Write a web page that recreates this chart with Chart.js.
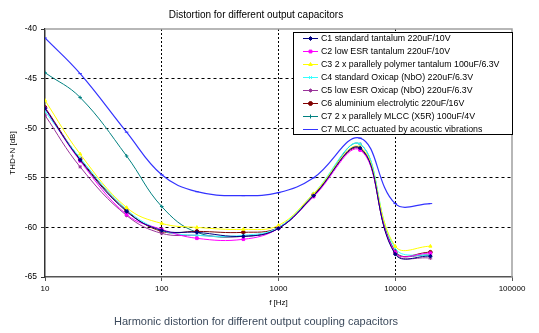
<!DOCTYPE html>
<html>
<head>
<meta charset="utf-8">
<script src="https://cdn.jsdelivr.net/npm/chart.js@4.4.1/dist/chart.umd.min.js"></script>
<style>
  body { margin: 0; background: #fff; }
  canvas { display: block; }
</style>
</head>
<body>
<canvas id="thdChart" width="539" height="333"></canvas>
<script>
// frequencies [Hz] and THD+N [dB] per capacitor
const freqs = [10, 20, 50, 100, 200, 500, 1000, 2000, 5000, 10000, 20000];
const c1Std = [-48.0, -53.2, -58.4, -60.3, -60.5, -60.9, -60.1, -56.8, -52.0, -62.7, -62.9];
const c2LowEsr = [-48.0, -53.3, -58.7, -60.2, -61.1, -61.2, -60.1, -56.9, -52.2, -62.5, -62.6];
const c3Polymer = [-47.2, -52.6, -58.0, -59.6, -60.0, -60.2, -59.8, -56.6, -51.9, -61.9, -61.9];
const c4Oxicap = [-48.3, -53.0, -58.2, -60.3, -60.8, -60.8, -60.0, -56.6, -51.6, -62.1, -62.9];
const c5OxicapLow = [-48.7, -53.9, -58.8, -60.6, -60.8, -60.9, -60.1, -56.8, -52.0, -62.6, -63.1];
const c6Alu = [-47.9, -53.1, -58.3, -60.4, -60.4, -60.5, -60.0, -56.7, -52.1, -62.5, -62.5];
const c7Mlcc = [-44.4, -46.9, -52.8, -57.9, -60.5, -60.9, -60.1, -56.8, -51.6, -62.4, -62.8];
const c7Acoustic = [-40.9, -44.5, -50.4, -54.7, -56.4, -56.8, -56.5, -55.0, -51.0, -57.6, -57.6];

const labels = [
  "C1 standard tantalum 220uF/10V",
  "C2 low ESR tantalum 220uF/10V",
  "C3 2 x parallely polymer tantalum 100uF/6.3V",
  "C4 standard Oxicap (NbO) 220uF/6.3V",
  "C5 low ESR Oxicap (NbO) 220uF/6.3V",
  "C6 aluminium electrolytic 220uF/16V",
  "C7 2 x parallely MLCC (X5R) 100uF/4V",
  "C7 MLCC actuated by acoustic vibrations"
];
const xTicks = [10, 100, 1000, 10000, 100000];
const yTicks = [-40, -45, -50, -55, -60, -65];

const series = [c1Std, c2LowEsr, c3Polymer, c4Oxicap, c5OxicapLow, c6Alu, c7Mlcc, c7Acoustic];
const colors = ["#000080", "#ff00ff", "#ffff00", "#33ffff", "#993399", "#800000", "#008080", "#3333ff"];
const markers = ["rectRot", "rect", "triangle", "crossRot", "star", "circle", "cross", "line"];

const FONT = "'Liberation Sans', Arial, sans-serif";

const datasets = series.map((vals, i) => ({
  label: labels[i],
  data: freqs.map((f, j) => ({ x: f, y: vals[j] })),
  borderColor: colors[i],
  backgroundColor: colors[i],
  borderWidth: i === 7 ? 1.2 : 1,
  tension: 0.4,
  pointStyle: markers[i],
  pointRadius: 1.8,
  pointBorderWidth: 1
}));

// frame lines on top and right of the plot
const framePlugin = {
  id: "frame",
  beforeDatasetsDraw(chart) {
    const { ctx, chartArea: a } = chart;
    ctx.save();
    ctx.strokeStyle = "#a0a0a0";
    ctx.lineWidth = 1.5;
    ctx.beginPath();
    ctx.moveTo(a.left, a.top);
    ctx.lineTo(a.right, a.top);
    ctx.lineTo(a.right, a.bottom);
    ctx.stroke();
    ctx.restore();
  }
};

// boxed legend inside the plot + caption under the chart
const legendBox = {
  id: "legendBox",
  afterDraw(chart) {
    const ctx = chart.ctx;
    ctx.save();
    ctx.fillStyle = "#fff";
    ctx.fillRect(293, 32, 220, 103);
    ctx.strokeStyle = "#000";
    ctx.lineWidth = 1;
    ctx.strokeRect(293.5, 32.5, 219, 102);
    ctx.font = "8.8px " + FONT;
    ctx.textBaseline = "middle";
    chart.data.datasets.forEach((ds, i) => {
      const y = 38.5 + i * 13;
      ctx.strokeStyle = ds.borderColor;
      ctx.fillStyle = ds.borderColor;
      ctx.lineWidth = 1;
      ctx.beginPath();
      ctx.moveTo(303, y);
      ctx.lineTo(318, y);
      ctx.stroke();
      if (Chart.helpers && Chart.helpers.drawPoint) {
        Chart.helpers.drawPoint(ctx, { pointStyle: ds.pointStyle, radius: 2, rotation: 0, borderWidth: 1 }, 310.5, y);
      }
      ctx.fillStyle = "#000";
      ctx.fillText(ds.label, 321, y);
    });
    ctx.font = "11px " + FONT;
    ctx.fillStyle = "#3c4a5c";
    ctx.textAlign = "center";
    ctx.fillText("Harmonic distortion for different output coupling capacitors", 256, 322);
    ctx.restore();
  }
};

new Chart(document.getElementById("thdChart"), {
  type: "line",
  data: { datasets },
  plugins: [framePlugin, legendBox],
  options: {
    responsive: false,
    animation: false,
    layout: { padding: { left: 0, right: 27, top: 0, bottom: 22 } },
    plugins: {
      legend: { display: false },
      tooltip: { enabled: false },
      title: {
        display: true,
        text: "Distortion for different output capacitors",
        color: "#000",
        font: { family: FONT, size: 10, weight: "normal" },
        padding: { top: 9, bottom: 8 }
      }
    },
    scales: {
      x: {
        type: "logarithmic",
        min: 10,
        max: 100000,
        afterBuildTicks: (scale) => { scale.ticks = xTicks.map(v => ({ value: v })); },
        afterFit: (scale) => { scale.height = 34; },
        ticks: {
          autoSkip: false,
          maxRotation: 0,
          padding: 3,
          color: "#000",
          font: { family: FONT, size: 8 },
          callback: (v) => String(v)
        },
        grid: {
          color: (c) => (c.tick && (c.tick.value === 10 || c.tick.value === 100000)) ? "rgba(0,0,0,0)" : "#000",
          tickColor: "#555",
          tickLength: 4,
          lineWidth: 1
        },
        border: { display: true, color: "#555", width: 1.5, dash: [2, 2] },
        title: {
          display: true,
          text: "f [Hz]",
          color: "#000",
          font: { family: FONT, size: 8 },
          padding: { top: 0, bottom: 3 }
        }
      },
      y: {
        min: -65,
        max: -40,
        afterBuildTicks: (scale) => { scale.ticks = yTicks.map(v => ({ value: v })); },
        afterFit: (scale) => { scale.width = 45; },
        ticks: {
          padding: 4,
          color: "#000",
          font: { family: FONT, size: 8.5 },
          callback: (v) => String(v)
        },
        grid: {
          color: (c) => (c.tick && (c.tick.value === -40 || c.tick.value === -65)) ? "rgba(0,0,0,0)" : "#000",
          tickColor: "#333",
          tickLength: 4,
          lineWidth: 1
        },
        border: { display: true, color: "#333", width: 1.5, dash: [3, 3] },
        title: {
          display: true,
          text: "THD+N [dB]",
          color: "#000",
          font: { family: FONT, size: 8 },
          padding: { top: 8, bottom: 0 }
        }
      }
    }
  }
});
</script>
</body>
</html>
